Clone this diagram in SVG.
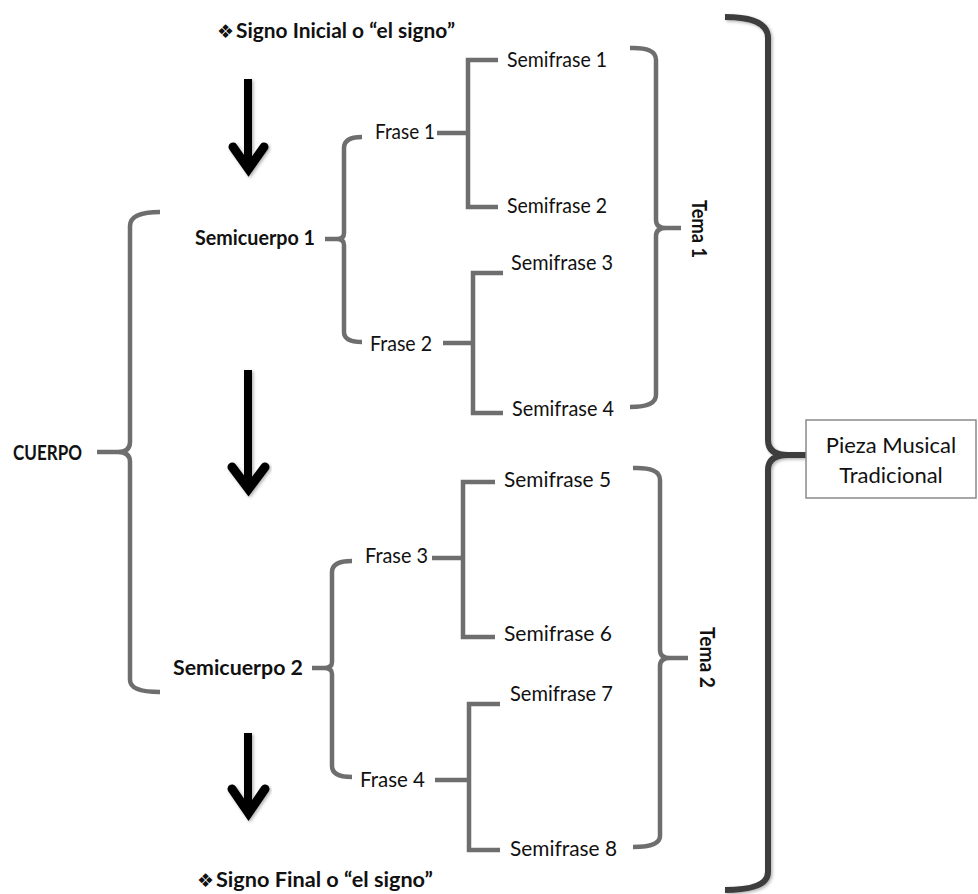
<svg xmlns="http://www.w3.org/2000/svg" width="978" height="894" viewBox="0 0 978 894">
  <style>
    .lbl { font-family: Lato, "Open Sans", "Liberation Sans", sans-serif; font-size: 21px; fill: #111; }
    .bold { font-weight: bold; font-size: 20px; }
    .sym { font-family: "DejaVu Sans", sans-serif; font-weight: normal; font-size: 19px; }
    .brk { fill: none; stroke: #6e6e6e; stroke-width: 4.5; stroke-linecap: butt; stroke-linejoin: miter; }
    .big { fill: none; stroke: #3e3e3e; stroke-width: 6; stroke-linejoin: round; }
    .arr { fill: none; stroke: #000; stroke-width: 8; }
    .head { fill: none; stroke: #000; stroke-width: 9; stroke-linecap: round; stroke-linejoin: miter; stroke-miterlimit: 6; }
  </style>
  <defs>
    <filter id="shade" x="-20%" y="-5%" width="140%" height="110%">
      <feDropShadow dx="1.5" dy="1.5" stdDeviation="1.5" flood-color="#000" flood-opacity="0.3"/>
    </filter>
  </defs>
  <rect width="978" height="894" fill="#fff"/>

  <g id="connectors">
    <!-- flow arrows -->
    <g filter="url(#shade)">
      <line class="arr" x1="248" y1="79" x2="248" y2="170"/>
      <polyline class="head" points="233,147 248.5,169 264,147"/>
      <line class="arr" x1="248" y1="370" x2="248" y2="488"/>
      <polyline class="head" points="232,467 248.5,489 265,467"/>
      <line class="arr" x1="248" y1="733" x2="248" y2="813"/>
      <polyline class="head" points="232,789 248.5,813 265,789"/>
    </g>

    <!-- CUERPO brace -->
    <path class="brk" d="M160,212 Q130,212 130,226 L130,442 Q130,452 118,452 L97,452 M118,452 Q130,452 130,462 L130,680 Q130,692 160,692"/>

    <!-- Semicuerpo 1 brace -->
    <path class="brk" d="M362,137 Q344,137 344,148 L344,233 Q344,239 337,239 L325,239 M337,239 Q344,239 344,245 L344,332 Q344,342 362,342"/>
    <!-- Frase 1 bracket -->
    <path class="brk" d="M498,60 L468,60 L468,207 L498,207 M437,133 L468,133"/>
    <!-- Frase 2 bracket -->
    <path class="brk" d="M503,273 L473,273 L473,413 L503,413 M443,343 L473,343"/>

    <!-- Semicuerpo 2 brace -->
    <path class="brk" d="M352,561 Q332,561 332,572 L332,662 Q332,668 324,668 L312,668 M324,668 Q332,668 332,674 L332,766 Q332,777 352,777"/>
    <!-- Frase 3 bracket -->
    <path class="brk" d="M495,482 L463,482 L463,637 L495,637 M432,558 L463,558"/>
    <!-- Frase 4 bracket -->
    <path class="brk" d="M500,704 L469,704 L469,850 L500,850 M435,780 L469,780"/>

    <!-- Tema 1 brace -->
    <path class="brk" d="M630,48 Q656,47 656,60 L656,220 Q656,228 666,228 L681,228 M666,228 Q656,228 656,236 L656,395 Q656,407 630,407"/>
    <!-- Tema 2 brace -->
    <path class="brk" d="M633,468 Q660,467 660,480 L660,650 Q660,658 670,658 L688,658 M670,658 Q660,658 660,666 L660,836 Q660,847 633,847"/>

    <!-- whole-piece brace -->
    <path class="big" filter="url(#shade)" d="M725,17 Q768,17 768,38 L768,440 Q768,455 788,455 L806,455 M788,455 Q768,455 768,470 L768,872 Q768,890 725,890"/>
  </g>

  <g id="signo-inicial">
    <text class="lbl bold" x="217" y="38"><tspan class="sym">❖</tspan><tspan x="236" textLength="219" lengthAdjust="spacingAndGlyphs">Signo Inicial o “el signo”</tspan></text>
  </g>
  <g id="signo-final">
    <text class="lbl bold" x="197" y="887"><tspan class="sym">❖</tspan><tspan x="216" textLength="217" lengthAdjust="spacingAndGlyphs">Signo Final o “el signo”</tspan></text>
  </g>
  <g id="cuerpo">
    <text class="lbl bold" x="13" y="460" textLength="69" lengthAdjust="spacingAndGlyphs">CUERPO</text>
  </g>
  <g id="semicuerpo-1">
    <text class="lbl bold" x="195" y="245" textLength="120" lengthAdjust="spacingAndGlyphs">Semicuerpo 1</text>
  </g>
  <g id="semicuerpo-2">
    <text class="lbl bold" x="173" y="675" textLength="130" lengthAdjust="spacingAndGlyphs">Semicuerpo 2</text>
  </g>
  <g id="frase-1">
    <text class="lbl" x="375" y="139" textLength="60" lengthAdjust="spacingAndGlyphs">Frase 1</text>
  </g>
  <g id="frase-2">
    <text class="lbl" x="370" y="351" textLength="62" lengthAdjust="spacingAndGlyphs">Frase 2</text>
  </g>
  <g id="frase-3">
    <text class="lbl" x="365" y="563" textLength="63" lengthAdjust="spacingAndGlyphs">Frase 3</text>
  </g>
  <g id="frase-4">
    <text class="lbl" x="360" y="787" textLength="65" lengthAdjust="spacingAndGlyphs">Frase 4</text>
  </g>
  <g id="semifrase-1">
    <text class="lbl" x="507" y="67" textLength="100" lengthAdjust="spacingAndGlyphs">Semifrase 1</text>
  </g>
  <g id="semifrase-2">
    <text class="lbl" x="507" y="213" textLength="100" lengthAdjust="spacingAndGlyphs">Semifrase 2</text>
  </g>
  <g id="semifrase-3">
    <text class="lbl" x="511" y="270" textLength="102" lengthAdjust="spacingAndGlyphs">Semifrase 3</text>
  </g>
  <g id="semifrase-4">
    <text class="lbl" x="512" y="416" textLength="102" lengthAdjust="spacingAndGlyphs">Semifrase 4</text>
  </g>
  <g id="semifrase-5">
    <text class="lbl" x="504" y="487" textLength="107" lengthAdjust="spacingAndGlyphs">Semifrase 5</text>
  </g>
  <g id="semifrase-6">
    <text class="lbl" x="504" y="641" textLength="108" lengthAdjust="spacingAndGlyphs">Semifrase 6</text>
  </g>
  <g id="semifrase-7">
    <text class="lbl" x="510" y="701" textLength="103" lengthAdjust="spacingAndGlyphs">Semifrase 7</text>
  </g>
  <g id="semifrase-8">
    <text class="lbl" x="510" y="856" textLength="107" lengthAdjust="spacingAndGlyphs">Semifrase 8</text>
  </g>
  <g id="tema-1">
    <text class="lbl bold" transform="translate(692,200) rotate(90)" x="0" y="0" textLength="58" lengthAdjust="spacingAndGlyphs">Tema 1</text>
  </g>
  <g id="tema-2">
    <text class="lbl bold" transform="translate(700,627) rotate(90)" x="0" y="0" textLength="61" lengthAdjust="spacingAndGlyphs">Tema 2</text>
  </g>
  <g id="pieza-musical">
    <rect x="806" y="420" width="170" height="78" fill="#fff" stroke="#8a8a8a" stroke-width="1.5"/>
    <text class="lbl" x="891" y="453" text-anchor="middle" style="font-size:22px">Pieza Musical</text>
    <text class="lbl" x="891" y="483" text-anchor="middle" style="font-size:22px">Tradicional</text>
  </g>
</svg>
